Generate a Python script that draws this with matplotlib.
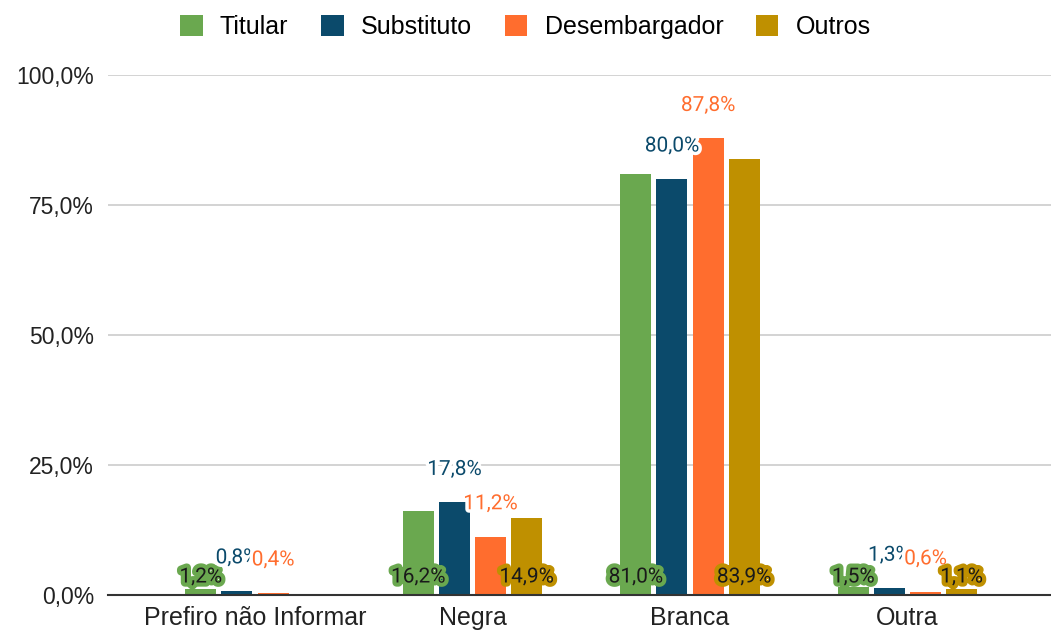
import matplotlib.pyplot as plt
import matplotlib.patheffects as pe
import numpy as np

plt.rcParams["font.family"] = ["Liberation Sans", "DejaVu Sans"]

# race / colour of magistrates, share per group
categories = ["Prefiro não Informar", "Negra", "Branca", "Outra"]
series_names = ["Titular", "Substituto", "Desembargador", "Outros"]
titular = [1.2, 16.2, 81.0, 1.5]
substituto = [0.8, 17.8, 80.0, 1.3]
desembargador = [0.4, 11.2, 87.8, 0.6]
outros = [0.0, 14.9, 83.9, 1.1]
colors = ["#6aa84f", "#0b4a6b", "#ff6d2e", "#bf9000"]

series = [titular, substituto, desembargador, outros]


def fmt(v):
    return f"{v:.1f}%".replace(".", ",")


fig = plt.figure(figsize=(10.51, 6.32), dpi=100)
ax = fig.add_axes([108 / 1051, 37 / 632, 943 / 1051, 520 / 632])

x = np.arange(len(categories))
step = 0.166
width = 0.143
for i, (vals, col, name) in enumerate(zip(series, colors, series_names)):
    pos = x + (i - 1.5) * step
    ax.bar(pos, vals, width=width, color=col, label=name, zorder=3)
    for p, v in zip(pos, vals):
        if v == 0:
            continue
        if i in (1, 2):
            # label above the bar, in the series colour
            ax.annotate(fmt(v), (p, v), xytext=(0, 33), textcoords="offset pixels",
                        ha="center", va="center", fontsize=15, color=col, zorder=5,
                        family=["Roboto", "DejaVu Sans"],
                        path_effects=[pe.withStroke(linewidth=5, foreground="white")])
        else:
            # label at the base, dark text with coloured halo
            ax.annotate(fmt(v), (p, 0), xytext=(0, 18), textcoords="offset pixels",
                        ha="center", va="center", fontsize=15, color="#1a1a1a", zorder=5,
                        family=["Roboto", "DejaVu Sans"],
                        path_effects=[pe.withStroke(linewidth=6, foreground=col)])

ax.set_ylim(0, 100)
ax.set_xlim((108 - 255) / 217.5, (1051 - 255) / 217.5)
ax.set_yticks([0, 25, 50, 75, 100])
ax.set_yticklabels([fmt(t) for t in [0, 25, 50, 75, 100]], fontsize=16.5, color="#222222")
ax.set_xticks(x)
ax.set_xticklabels(categories, fontsize=18, color="#222222")
ax.tick_params(axis="both", length=0)
ax.tick_params(axis="x", pad=8)
ax.tick_params(axis="y", pad=10)
ax.grid(axis="y", color="#cccccc", linewidth=1.2, zorder=0)
for s in ["top", "right", "left"]:
    ax.spines[s].set_visible(False)
ax.spines["bottom"].set_color("#333333")
ax.spines["bottom"].set_linewidth(1.5)
ax.spines["bottom"].set_zorder(4)

fig.legend(loc="upper center", bbox_to_anchor=(0.5, 1.012), ncol=4, frameon=False,
           fontsize=18, handlelength=0.9, handleheight=0.9, columnspacing=1.3,
           handletextpad=0.7)

fig.savefig("out.png", dpi=100)
